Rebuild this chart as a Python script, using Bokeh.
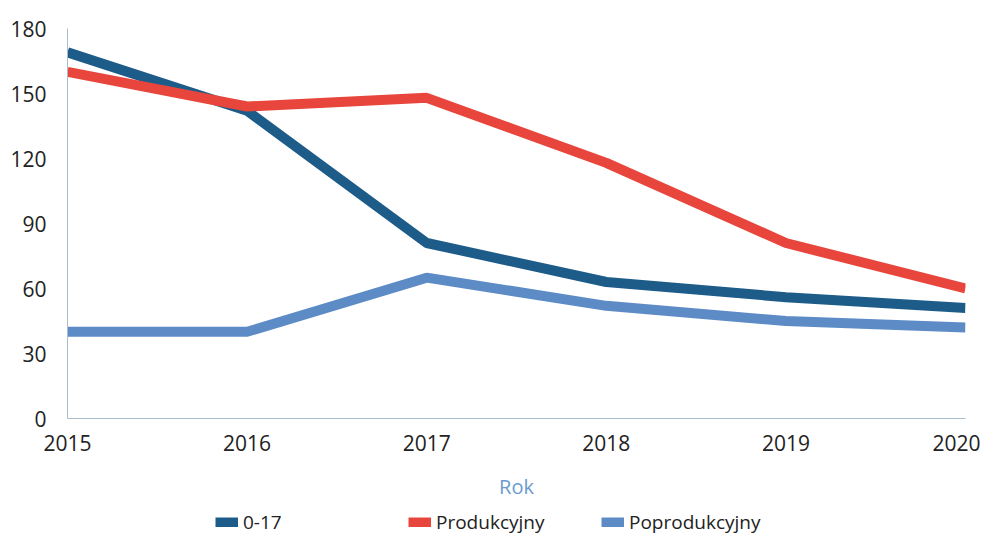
from bokeh.plotting import figure
from bokeh.layouts import column
from bokeh.models import Legend, LegendItem, FixedTicker, Range1d
from bokeh.embed import file_html
from bokeh.resources import INLINE

years = [2015, 2016, 2017, 2018, 2019, 2020]
s_0_17 = [169, 142, 81, 63, 56, 51]
s_prod = [160, 144, 148, 118, 81, 60]
s_poprod = [40, 40, 65, 52, 45, 42]
y_ticks = [0, 30, 60, 90, 120, 150, 180]
names = ["0-17", "Produkcyjny", "Poprodukcyjny"]
colors = ["#1d5c89", "#e8463c", "#5d8bc6"]
series = [s_0_17, s_prod, s_poprod]

FONT = "Open Sans"

p = figure(width=980, height=510, output_backend="svg", toolbar_location=None,
           x_range=Range1d(2015, 2020), y_range=Range1d(0, 180))
p.min_border_left = 67
p.min_border_right = 15
p.min_border_top = 28
p.min_border_bottom = 92
p.outline_line_color = None
p.xgrid.grid_line_color = None
p.ygrid.grid_line_color = None
p.background_fill_color = "white"
p.border_fill_color = "white"

for s, c in zip(series, colors):
    p.line(years, s, line_color=c, line_width=10)

for ax in (p.xaxis[0], p.yaxis[0]):
    ax.axis_line_color = "#a9bccb"
    ax.axis_line_width = 1
    ax.major_tick_line_color = None
    ax.minor_tick_line_color = None
    ax.major_label_text_font = FONT
    ax.major_label_text_font_size = "21px"
    ax.major_label_text_color = "#222222"

p.xaxis.ticker = FixedTicker(ticks=years)
p.yaxis.ticker = FixedTicker(ticks=y_ticks)
p.xaxis.major_label_standoff = 10
p.yaxis.major_label_standoff = 15
p.xaxis.axis_label = "Rok"
p.xaxis.axis_label_text_font = FONT
p.xaxis.axis_label_text_font_style = "normal"
p.xaxis.axis_label_text_font_size = "20px"
p.xaxis.axis_label_text_color = "#6b9bcf"
p.xaxis.axis_label_standoff = 19

# legend strip below the chart (series drawn off-range, only their legend glyphs show)
lf = figure(width=980, height=35, output_backend="svg", toolbar_location=None,
            x_range=Range1d(0, 1), y_range=Range1d(0, 1))
lf.axis.visible = False
lf.grid.visible = False
lf.outline_line_color = None
lf.min_border_left = 0
lf.min_border_right = 0
lf.min_border_top = 0
lf.min_border_bottom = 0
items = []
for n, s, c in zip(names, series, colors):
    r = lf.line(years, s, line_color=c, line_width=10)
    items.append(LegendItem(label=n, renderers=[r]))

legend = Legend(items=items, location=(148, 10), orientation="horizontal",
                background_fill_alpha=0, border_line_color=None,
                label_text_font=FONT, label_text_font_size="19px",
                label_text_color="#222222", glyph_width=23, glyph_height=10,
                label_standoff=5, label_width=140, spacing=25,
                padding=0, margin=0)
lf.add_layout(legend, "center")

layout = column(p, lf, spacing=0)
open("out.html", "w").write(file_html(layout, INLINE))
